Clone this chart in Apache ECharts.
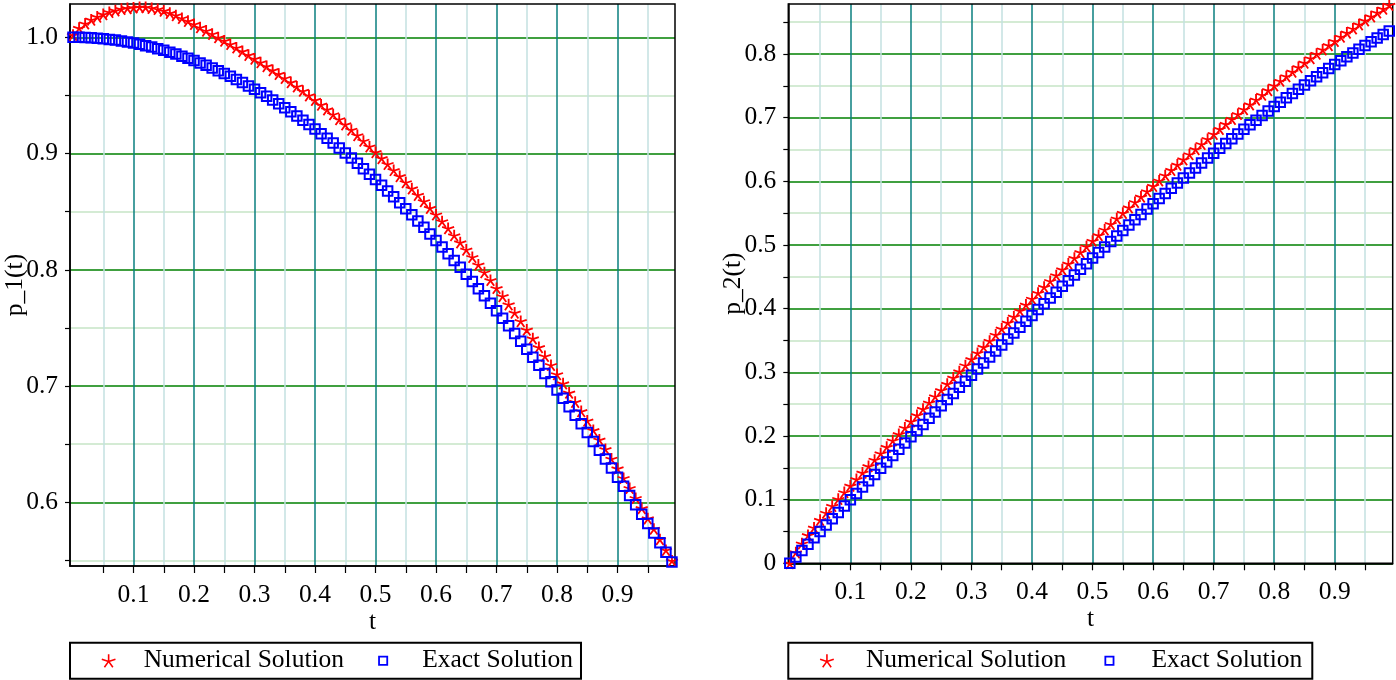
<!DOCTYPE html>
<html>
<head>
<meta charset="utf-8">
<style>
  html, body { margin: 0; padding: 0; background: #fff; }
  #main { width: 1396px; height: 680px; }
</style>
<script src="https://cdn.jsdelivr.net/npm/echarts@6/dist/echarts.min.js"></script>
</head>
<body>
<div id="main"></div>
<script>
// time grid of the solution
const tValues = [
  0.00, 0.01, 0.02, 0.03, 0.04, 0.05, 0.06, 0.07, 0.08, 0.09,
  0.10, 0.11, 0.12, 0.13, 0.14, 0.15, 0.16, 0.17, 0.18, 0.19,
  0.20, 0.21, 0.22, 0.23, 0.24, 0.25, 0.26, 0.27, 0.28, 0.29,
  0.30, 0.31, 0.32, 0.33, 0.34, 0.35, 0.36, 0.37, 0.38, 0.39,
  0.40, 0.41, 0.42, 0.43, 0.44, 0.45, 0.46, 0.47, 0.48, 0.49,
  0.50, 0.51, 0.52, 0.53, 0.54, 0.55, 0.56, 0.57, 0.58, 0.59,
  0.60, 0.61, 0.62, 0.63, 0.64, 0.65, 0.66, 0.67, 0.68, 0.69,
  0.70, 0.71, 0.72, 0.73, 0.74, 0.75, 0.76, 0.77, 0.78, 0.79,
  0.80, 0.81, 0.82, 0.83, 0.84, 0.85, 0.86, 0.87, 0.88, 0.89,
  0.90, 0.91, 0.92, 0.93, 0.94, 0.95, 0.96, 0.97, 0.98, 0.99
]

// p_1(t)
const p1Numerical = [
  1.0020, 1.0080, 1.0118, 1.0151, 1.0177, 1.0198, 1.0217, 1.0231, 1.0243, 1.0250,
  1.0255, 1.0260, 1.0258, 1.0251, 1.0242, 1.0228, 1.0209, 1.0189, 1.0165, 1.0140,
  1.0113, 1.0085, 1.0057, 1.0029, 0.9999, 0.9970, 0.9941, 0.9911, 0.9880, 0.9848,
  0.9816, 0.9784, 0.9751, 0.9717, 0.9684, 0.9649, 0.9613, 0.9576, 0.9539, 0.9500,
  0.9461, 0.9420, 0.9379, 0.9337, 0.9294, 0.9250, 0.9204, 0.9157, 0.9109, 0.9060,
  0.9011, 0.8960, 0.8909, 0.8857, 0.8805, 0.8752, 0.8699, 0.8644, 0.8589, 0.8532,
  0.8475, 0.8417, 0.8357, 0.8296, 0.8235, 0.8173, 0.8109, 0.8044, 0.7978, 0.7911,
  0.7842, 0.7773, 0.7702, 0.7631, 0.7558, 0.7484, 0.7409, 0.7334, 0.7257, 0.7180,
  0.7101, 0.7022, 0.6942, 0.6863, 0.6783, 0.6702, 0.6620, 0.6538, 0.6457, 0.6374,
  0.6291, 0.6208, 0.6122, 0.6036, 0.5949, 0.5861, 0.5771, 0.5681, 0.5589, 0.5497
]
const p1Exact = [
  1.0000, 1.0000, 0.9998, 0.9996, 0.9992, 0.9988, 0.9982, 0.9976, 0.9968, 0.9960,
  0.9950, 0.9940, 0.9928, 0.9916, 0.9902, 0.9888, 0.9872, 0.9856, 0.9838, 0.9820,
  0.9801, 0.9780, 0.9759, 0.9737, 0.9713, 0.9689, 0.9664, 0.9638, 0.9611, 0.9582,
  0.9553, 0.9523, 0.9492, 0.9460, 0.9428, 0.9394, 0.9359, 0.9323, 0.9287, 0.9249,
  0.9211, 0.9171, 0.9131, 0.9090, 0.9048, 0.9004, 0.8961, 0.8916, 0.8870, 0.8823,
  0.8776, 0.8727, 0.8678, 0.8628, 0.8577, 0.8525, 0.8473, 0.8419, 0.8365, 0.8309,
  0.8253, 0.8197, 0.8139, 0.8080, 0.8021, 0.7961, 0.7900, 0.7838, 0.7776, 0.7712,
  0.7648, 0.7584, 0.7518, 0.7452, 0.7385, 0.7317, 0.7248, 0.7179, 0.7109, 0.7038,
  0.6967, 0.6895, 0.6822, 0.6749, 0.6675, 0.6600, 0.6524, 0.6448, 0.6372, 0.6294,
  0.6216, 0.6137, 0.6058, 0.5978, 0.5898, 0.5817, 0.5735, 0.5653, 0.5570, 0.5487
]

// p_2(t)
const p2Numerical = [
  0.0000, 0.0170, 0.0310, 0.0440, 0.0560, 0.0680, 0.0792, 0.0901, 0.1009, 0.1115,
  0.1218, 0.1321, 0.1423, 0.1524, 0.1625, 0.1726, 0.1827, 0.1928, 0.2027, 0.2128,
  0.2227, 0.2326, 0.2424, 0.2523, 0.2621, 0.2719, 0.2817, 0.2914, 0.3012, 0.3109,
  0.3205, 0.3302, 0.3398, 0.3493, 0.3589, 0.3684, 0.3779, 0.3873, 0.3967, 0.4061,
  0.4154, 0.4247, 0.4340, 0.4432, 0.4523, 0.4615, 0.4705, 0.4796, 0.4886, 0.4975,
  0.5064, 0.5153, 0.5241, 0.5328, 0.5415, 0.5502, 0.5588, 0.5673, 0.5758, 0.5843,
  0.5926, 0.6011, 0.6094, 0.6177, 0.6260, 0.6342, 0.6423, 0.6504, 0.6584, 0.6663,
  0.6742, 0.6821, 0.6900, 0.6978, 0.7055, 0.7131, 0.7207, 0.7282, 0.7357, 0.7431,
  0.7504, 0.7577, 0.7649, 0.7721, 0.7792, 0.7863, 0.7932, 0.8001, 0.8069, 0.8137,
  0.8203, 0.8269, 0.8334, 0.8398, 0.8463, 0.8526, 0.8589, 0.8650, 0.8710, 0.8770
]
const p2Exact = [
  0.0000, 0.0100, 0.0200, 0.0300, 0.0400, 0.0500, 0.0600, 0.0699, 0.0799, 0.0899,
  0.0998, 0.1098, 0.1197, 0.1296, 0.1395, 0.1494, 0.1593, 0.1692, 0.1790, 0.1889,
  0.1987, 0.2085, 0.2182, 0.2280, 0.2377, 0.2474, 0.2571, 0.2667, 0.2764, 0.2860,
  0.2955, 0.3051, 0.3146, 0.3240, 0.3335, 0.3429, 0.3523, 0.3616, 0.3709, 0.3802,
  0.3894, 0.3986, 0.4078, 0.4169, 0.4259, 0.4350, 0.4439, 0.4529, 0.4618, 0.4706,
  0.4794, 0.4882, 0.4969, 0.5055, 0.5141, 0.5227, 0.5312, 0.5396, 0.5480, 0.5564,
  0.5646, 0.5729, 0.5810, 0.5891, 0.5972, 0.6052, 0.6131, 0.6210, 0.6288, 0.6365,
  0.6442, 0.6518, 0.6594, 0.6669, 0.6743, 0.6816, 0.6889, 0.6961, 0.7033, 0.7104,
  0.7174, 0.7243, 0.7311, 0.7379, 0.7446, 0.7513, 0.7578, 0.7643, 0.7707, 0.7771,
  0.7833, 0.7895, 0.7956, 0.8016, 0.8076, 0.8134, 0.8192, 0.8249, 0.8305, 0.8360
]

// tick labels
const tTickLabels = ['0.1', '0.2', '0.3', '0.4', '0.5', '0.6', '0.7', '0.8', '0.9']
const p1TickLabels = ['0.6', '0.7', '0.8', '0.9', '1.0']
const p2TickLabels = ['0', '0.1', '0.2', '0.3', '0.4', '0.5', '0.6', '0.7', '0.8']
const legendNames = ['Numerical Solution', 'Exact Solution']

const FONT = 'Liberation Serif'
const FS = 25.5
const GREEN = '#008000', GREEN_LIGHT = '#c6e5c6'
const TEAL = '#0a7f7f', TEAL_LIGHT = '#c3e1e1'

// 5-armed asterisk, drawn as strokes
function star(R) {
  const pts = [-90, -18, 54, 126, 198].map(a => [R * Math.cos(a * Math.PI / 180), R * Math.sin(a * Math.PI / 180)])
  const minX = Math.min(...pts.map(p => p[0])), minY = Math.min(...pts.map(p => p[1]))
  const maxX = Math.max(...pts.map(p => p[0])), maxY = Math.max(...pts.map(p => p[1]))
  const f = v => v.toFixed(3)
  const d = pts.map(p => 'M' + f(-minX) + ',' + f(-minY) + 'L' + f(p[0] - minX) + ',' + f(p[1] - minY)).join('')
  return { path: 'path://' + d, size: [maxX - minX, maxY - minY] }
}
const STAR = star(6.3)
const STAR_LEGEND = star(7)
const SQUARE_LEGEND = 'path://M-1.5,-1.5M11.5,11.5M0,0H10V10H0ZM1.8,1.8V8.2H8.2V1.8Z'

// panels: pixel box of the plot and its value window
const panels = [
  { left: 70, top: 4, width: 605, height: 562, x0: -0.005, x1: 0.995, y0: 0.5452, y1: 1.02865,
    yLo: 0.55, yHi: 1.0, yLabels: p1TickLabels, yName: 'p_1(t)', num: p1Numerical, ex: p1Exact,
    legend: { pad: 31, padR: 8, gap1: 23, gap2: 27, itemGap: 31 } },
  { left: 788.3, top: 4, width: 604.4, height: 559.3, x0: -0.0025, x1: 0.9957, y0: 0, y1: 0.8785,
    yLo: 0, yHi: 0.85, yLabels: p2TickLabels, yName: 'p_2(t)', num: p2Numerical, ex: p2Exact,
    legend: { pad: 31, padR: 10, gap1: 27, gap2: 30, itemGap: 35 } }
]

function sub(P, xa, xb, ya, yb) {
  const sx = P.width / (P.x1 - P.x0), sy = P.height / (P.y1 - P.y0)
  return {
    left: P.left + (xa - P.x0) * sx, width: (xb - xa) * sx,
    top: P.top + (P.y1 - yb) * sy, height: (yb - ya) * sy
  }
}
const pick = labels => v => {
  const hit = labels.find(l => Math.abs(Number(l) - v) < 1e-6)
  return hit === undefined ? '' : hit
}
const textStyle = { fontFamily: FONT, fontSize: FS, color: '#000' }

const grid = [], xAxis = [], yAxis = [], series = [], legend = []
panels.forEach((P, k) => {
  const g = k * 3
  grid.push({ left: P.left, top: P.top, width: P.width, height: P.height, show: true,
    borderColor: '#000', borderWidth: 1.5, backgroundColor: 'transparent', z: 3 })
  grid.push(sub(P, P.x0, P.x1, P.yLo, P.yHi))
  grid.push(sub(P, 0.05, 0.95, P.y0, P.y1))

  // main axes: data + black frame
  xAxis.push({ gridIndex: g, type: 'value', min: P.x0, max: P.x1, z: 3,
    axisLine: { onZero: false, lineStyle: { color: '#000', width: 1.5 } },
    axisTick: { show: false }, axisLabel: { show: false }, splitLine: { show: false },
    name: 't', nameLocation: 'middle', nameGap: 43, nameTextStyle: textStyle })
  yAxis.push({ gridIndex: g, type: 'value', min: P.y0, max: P.y1, z: 3,
    axisLine: { onZero: false, lineStyle: { color: '#000', width: 1.5 } },
    axisTick: { show: false }, axisLabel: { show: false }, splitLine: { show: false },
    name: P.yName, nameLocation: 'middle', nameGap: 42, nameTextStyle: textStyle })

  // horizontal grid lines, y ticks and labels
  const startsMajor = Math.round(P.yLo / 0.05) % 2 === 0
  xAxis.push({ gridIndex: g + 1, type: 'value', min: 0, max: 1, show: false })
  yAxis.push({ gridIndex: g + 1, type: 'value', min: P.yLo, max: P.yHi, interval: 0.05, z: 0,
    axisLine: { show: false, onZero: false },
    axisTick: { show: true, length: 5, lineStyle: { color: '#000', width: 1.2 } },
    axisLabel: { formatter: pick(P.yLabels), margin: 12, fontFamily: FONT, fontSize: FS, color: '#000' },
    splitLine: { show: true, lineStyle: { color: startsMajor ? [GREEN, GREEN_LIGHT] : [GREEN_LIGHT, GREEN], width: 1.5 } } })

  // vertical grid lines, t ticks and labels
  xAxis.push({ gridIndex: g + 2, type: 'value', min: 0.05, max: 0.95, interval: 0.05, z: 1,
    axisLine: { show: false, onZero: false },
    axisTick: { show: true, length: 7, lineStyle: { color: '#000', width: 1.2 } },
    axisLabel: { formatter: pick(tTickLabels), margin: 16, fontFamily: FONT, fontSize: FS, color: '#000' },
    splitLine: { show: true, lineStyle: { color: [TEAL_LIGHT, TEAL], width: 1.5 } } })
  yAxis.push({ gridIndex: g + 2, type: 'value', min: 0, max: 1, show: false })

  series.push({
    name: legendNames[0], type: 'scatter', xAxisIndex: g, yAxisIndex: g, z: 4,
    symbol: STAR.path, symbolSize: STAR.size,
    itemStyle: { color: '#ff0000', borderColor: '#ff0000', borderWidth: 1.8, opacity: 1 },
    data: tValues.map((t, i) => [t, P.num[i]])
  })
  series.push({
    name: legendNames[1], type: 'scatter', xAxisIndex: g, yAxisIndex: g, z: 5,
    symbol: 'rect', symbolSize: 9.5,
    itemStyle: { color: 'transparent', borderColor: '#0000ff', borderWidth: 2, opacity: 1 },
    data: tValues.map((t, i) => [t, P.ex[i]])
  })

  const L = P.legend
  legend.push({
    left: P.left, top: 642.7, orient: 'horizontal', selectedMode: false,
    itemWidth: 14, itemHeight: 13, itemGap: L.itemGap,
    padding: [4, L.padR, 4, L.pad], borderColor: '#000', borderWidth: 2,
    textStyle: { fontFamily: FONT, fontSize: FS, color: '#000', lineHeight: 28 },
    data: [
      { name: legendNames[0], icon: STAR_LEGEND.path,
        textStyle: { width: 202, padding: [0, 0, 0, L.gap1] },
        itemStyle: { color: '#ff0000', borderColor: '#ff0000', borderWidth: 1.6, opacity: 1 } },
      { name: legendNames[1], icon: SQUARE_LEGEND,
        textStyle: { width: 150, padding: [0, 0, 0, L.gap2] },
        itemStyle: { color: '#0000ff', borderWidth: 0, opacity: 1 } }
    ]
  })
})

const myChart = echarts.init(document.getElementById('main'))
myChart.setOption({
  animation: false,
  backgroundColor: '#fff',
  grid, xAxis, yAxis, series, legend
})
</script>
</body>
</html>
